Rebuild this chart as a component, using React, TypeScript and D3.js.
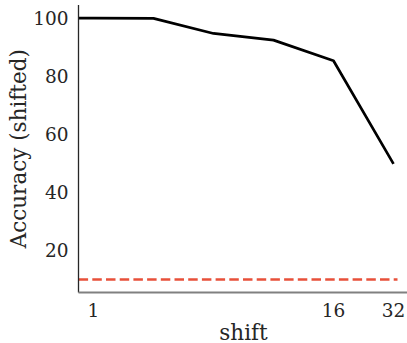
import React, { useEffect, useRef } from "react";
import * as d3 from "d3";

// shift 0 sits left of the log axis and gets clipped to the spine
const shifts = [0, 1, 2, 4, 8, 16, 32];
const accuracy = [100, 100, 99.9, 94.7, 92.4, 85.3, 49.8];
const chanceLevel = 10;
const xTicks = [1, 16, 32];
const yTicks = [20, 40, 60, 80, 100];

const App = () => {
	const svgRef = useRef<SVGSVGElement>(null);

	useEffect(() => {
		const width = 407;
		const height = 343;
		const margin = { top: 5, right: -1.5, bottom: 50.5, left: 78.5 };
		const innerW = width - margin.left - margin.right;
		const innerH = height - margin.top - margin.bottom;
		const font = "'DejaVu Serif', serif";
		const textColor = "#262626";

		const svg = d3.select(svgRef.current);
		svg.selectAll("*").remove();

		const x = d3
			.scaleLog()
			.base(2)
			.domain([Math.pow(2, -0.25), Math.pow(2, 5.25)])
			.range([0, innerW]);
		const y = d3.scaleLinear().domain([5.5, 104.5]).range([innerH, 0]);

		const g = svg.append("g").attr("transform", `translate(${margin.left},${margin.top})`);

		svg.append("defs")
			.append("clipPath")
			.attr("id", "plot-clip")
			.append("rect")
			.attr("x", 0)
			.attr("y", -5)
			.attr("width", innerW)
			.attr("height", innerH + 10);

		const xPos = (s: number) => (s <= 0 ? -1000 : x(s));

		// chance level
		g.append("line")
			.attr("clip-path", "url(#plot-clip)")
			.attr("x1", xPos(0))
			.attr("x2", x(32) + 4)
			.attr("y1", y(chanceLevel))
			.attr("y2", y(chanceLevel))
			.attr("stroke", "#e8503a")
			.attr("stroke-width", 2.6)
			.attr("stroke-dasharray", "9.5,4.2");

		const line = d3
			.line<number>()
			.x((d, i) => xPos(shifts[i]))
			.y((d) => y(d));

		g.append("path")
			.datum(accuracy)
			.attr("clip-path", "url(#plot-clip)")
			.attr("d", line)
			.attr("fill", "none")
			.attr("stroke", "#000")
			.attr("stroke-width", 2.7)
			.attr("stroke-linejoin", "round");

		// spines
		g.append("line")
			.attr("x1", 0)
			.attr("x2", 0)
			.attr("y1", 0)
			.attr("y2", innerH)
			.attr("stroke", "#262626")
			.attr("stroke-width", 1.3);
		g.append("line")
			.attr("x1", 0)
			.attr("x2", innerW)
			.attr("y1", innerH)
			.attr("y2", innerH)
			.attr("stroke", "#808080")
			.attr("stroke-width", 2);

		g.selectAll(".ytick")
			.data(yTicks)
			.join("text")
			.attr("x", -10)
			.attr("y", (d) => y(d))
			.attr("dy", "0.35em")
			.attr("text-anchor", "end")
			.attr("font-family", font)
			.attr("font-size", 18.5)
			.attr("fill", textColor)
			.text((d) => d);

		g.selectAll(".xtick")
			.data(xTicks)
			.join("text")
			.attr("x", (d) => x(d))
			.attr("y", innerH + 24.5)
			.attr("text-anchor", "middle")
			.attr("font-family", font)
			.attr("font-size", 18.5)
			.attr("fill", textColor)
			.text((d) => d);

		g.append("text")
			.attr("x", innerW / 2)
			.attr("y", innerH + 47)
			.attr("text-anchor", "middle")
			.attr("font-family", font)
			.attr("font-size", 21.5)
			.attr("fill", textColor)
			.text("shift");

		g.append("text")
			.attr("transform", `translate(${26 - margin.left},${innerH / 2}) rotate(-90)`)
			.attr("text-anchor", "middle")
			.attr("font-family", font)
			.attr("font-size", 21.5)
			.attr("fill", textColor)
			.text("Accuracy (shifted)");
	}, []);

	return (
		<svg
			ref={svgRef}
			width={407}
			height={343}
			style={{ position: "absolute", left: 0, top: 0, background: "#fff" }}
		/>
	);
};

export default App;
